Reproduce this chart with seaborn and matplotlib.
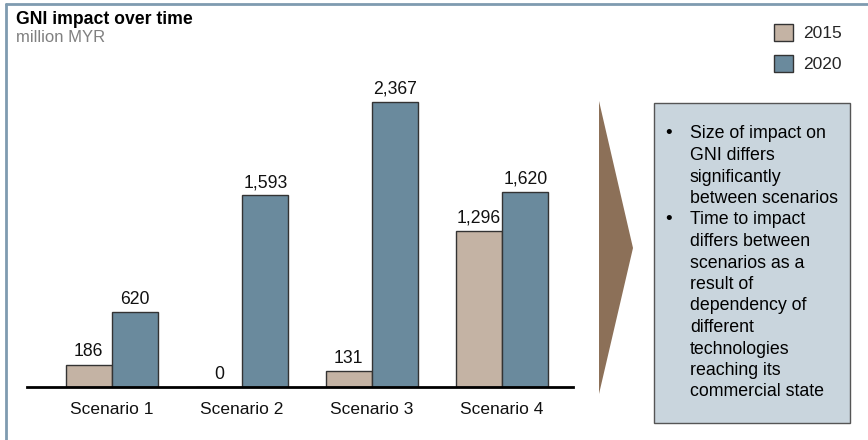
import pandas as pd
import numpy as np
import matplotlib.pyplot as plt
import seaborn as sns
from matplotlib.patches import Patch, Polygon, Rectangle

# data
scenarios = ['Scenario 1', 'Scenario 2', 'Scenario 3', 'Scenario 4']
years = ['2015', '2020']
values_2015 = [186, 0, 131, 1296]
values_2020 = [620, 1593, 2367, 1620]
title = 'GNI impact over time'
subtitle = 'million MYR'
bullets = [
    ['Size of impact on', 'GNI differs', 'significantly', 'between scenarios'],
    ['Time to impact', 'differs between', 'scenarios as a', 'result of',
     'dependency of', 'different', 'technologies', 'reaching its',
     'commercial state'],
]

colors = {'2015': '#C4B3A4', '2020': '#6A8A9D'}

df = pd.DataFrame({
    'scenario': scenarios * 2,
    'year': ['2015'] * 4 + ['2020'] * 4,
    'value': values_2015 + values_2020,
})

sns.set_theme(style='white')
plt.rcParams['font.family'] = ['Liberation Sans', 'DejaVu Sans']

fig = plt.figure(figsize=(8.68, 4.40), dpi=100)
W, H = 868, 440

# overlay in pixel coords for decorations
over = fig.add_axes([0, 0, 1, 1], zorder=0)
over.set_xlim(0, W)
over.set_ylim(H, 0)
over.axis('off')

# frame lines
over.plot([5.5, 5.5], [4.5, H], color='#7F9BB0', lw=2)
over.plot([5.5, W], [4.5, 4.5], color='#7F9BB0', lw=2)

# chart
ax = fig.add_axes([27 / W, 1 - 387 / H, 546 / W, 307 / H], zorder=1)
ax.patch.set_alpha(0)
sns.barplot(data=df, x='scenario', y='value', hue='year', palette=colors,
            width=0.715, edgecolor='#333333', linewidth=1, saturation=1,
            legend=False, ax=ax)
for c in ax.containers:
    ax.bar_label(c, labels=[f'{v:,.0f}' for v in c.datavalues],
                 padding=3, fontsize=12.7, color='#111111')
ax.set_xlim(-0.654, 3.546)
ax.set_ylim(0, 2550)
ax.set_xlabel('')
ax.set_ylabel('')
ax.set_yticks([])
for s in ['top', 'right', 'left']:
    ax.spines[s].set_visible(False)
ax.spines['bottom'].set_color('black')
ax.spines['bottom'].set_linewidth(2)
ax.tick_params(axis='x', length=0, pad=11, labelsize=12.5, labelcolor='#111111')

# title
over.text(16, 19, title, fontsize=12.7, fontweight='bold', va='center', ha='left', color='black')
over.text(16, 37, subtitle, fontsize=12, va='center', ha='left', color='#808080')

# legend
handles = [Patch(facecolor=colors[y], edgecolor='#333333', lw=1) for y in years]
fig.legend(handles, years, loc='upper left', bbox_to_anchor=(774 / W, 1 - 24 / H),
           frameon=False, handlelength=1.1, handleheight=1.15, handletextpad=0.6,
           labelspacing=0.75, borderpad=0, borderaxespad=0, fontsize=12.5)

# arrow
over.add_patch(Polygon([[599, 101], [633, 248], [599, 394]], closed=True,
                       facecolor='#8C7058', edgecolor='none'))

# text box
over.add_patch(Rectangle((654, 103), 196, 320, facecolor='#C9D5DD',
                         edgecolor='#555555', lw=1))
y = 134
step = 21.5
for item in bullets:
    over.text(665, y, '\u2022', fontsize=13.5, va='center', ha='left', color='black')
    for line in item:
        over.text(690, y, line, fontsize=12.8, va='center', ha='left', color='black')
        y += step

fig.savefig('out.png', dpi=100)
